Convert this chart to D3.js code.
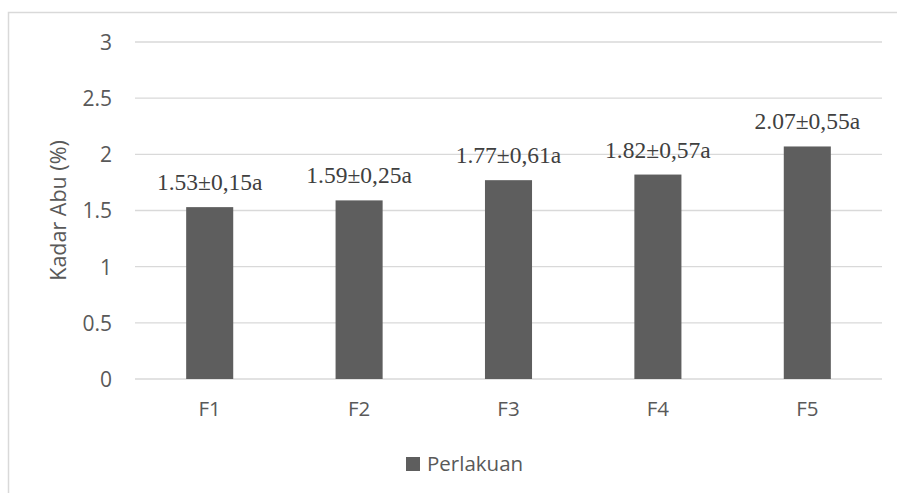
<!DOCTYPE html>
<html>
<head>
<meta charset="utf-8">
<script src="https://cdn.jsdelivr.net/npm/d3@7"></script>
<style>
  html, body { margin: 0; padding: 0; background: #fff; }
  svg { display: block; }
</style>
</head>
<body>
<svg id="chart" width="897" height="493"></svg>
<script>
// Ash content per treatment
const categories = ["F1", "F2", "F3", "F4", "F5"];
const values = [1.53, 1.59, 1.77, 1.82, 2.07];
const labels = ["1.53±0,15a", "1.59±0,25a", "1.77±0,61a", "1.82±0,57a", "2.07±0,55a"];
const yTicks = [0, 0.5, 1, 1.5, 2, 2.5, 3];
const seriesName = "Perlakuan";
const yTitle = "Kadar Abu (%)";

const svg = d3.select("#chart");
const W = 897, H = 493;
const plot = { left: 135, right: 882, top: 42, bottom: 379 };

const sansFont = "'Open Sans', 'Liberation Sans', sans-serif";
const serifFont = "'Liberation Serif', 'Times New Roman', serif";
const textColor = "#595959";
const gridColor = "#d9d9d9";
const barColor = "#5e5e5e";
const sansSize = 20.5;

// chart area border (top and left edges visible)
svg.append("rect")
  .attr("x", 8.5).attr("y", 12.5)
  .attr("width", W + 20).attr("height", H + 20)
  .attr("fill", "none").attr("stroke", gridColor).attr("stroke-width", 1.5);

const x = d3.scaleBand().domain(categories).range([plot.left, plot.right]).paddingInner(0.685).paddingOuter(0.3425);
const y = d3.scaleLinear().domain([0, 3]).range([plot.bottom, plot.top]);

// gridlines
svg.append("g")
  .selectAll("line")
  .data(yTicks)
  .join("line")
  .attr("x1", plot.left).attr("x2", plot.right)
  .attr("y1", d => y(d)).attr("y2", d => y(d))
  .attr("stroke", gridColor).attr("stroke-width", 1.3);

// y axis tick labels
const yAxis = d3.axisLeft(y).tickValues(yTicks).tickSize(0).tickPadding(0).tickFormat(d3.format("~g"));
svg.append("g")
  .attr("transform", `translate(${plot.left - 23},0)`)
  .call(yAxis)
  .call(g => g.select(".domain").remove())
  .call(g => g.selectAll("text")
    .attr("font-family", sansFont).attr("font-size", 21).attr("fill", textColor).attr("dy", "0.35em"));

// x axis tick labels
const xAxis = d3.axisBottom(x).tickSize(0).tickPadding(0);
svg.append("g")
  .attr("transform", `translate(0,${plot.bottom + 22})`)
  .call(xAxis)
  .call(g => g.select(".domain").remove())
  .call(g => g.selectAll("text")
    .attr("font-family", sansFont).attr("font-size", sansSize).attr("fill", textColor).attr("dy", "0.71em"));

// bars
svg.append("g")
  .selectAll("rect")
  .data(values)
  .join("rect")
  .attr("x", (d, i) => x(categories[i]))
  .attr("width", x.bandwidth())
  .attr("y", d => y(d))
  .attr("height", d => y(0) - y(d))
  .attr("fill", barColor);

// value labels
svg.append("g")
  .selectAll("text")
  .data(values)
  .join("text")
  .attr("x", (d, i) => x(categories[i]) + x.bandwidth() / 2)
  .attr("y", d => y(d) - 17)
  .attr("text-anchor", "middle")
  .attr("font-family", serifFont).attr("font-size", 23.5)
  .attr("fill", "#404040")
  .text((d, i) => labels[i]);

// y axis title
svg.append("text")
  .attr("transform", `translate(66,${(plot.top + plot.bottom) / 2}) rotate(-90)`)
  .attr("text-anchor", "middle")
  .attr("font-family", sansFont).attr("font-size", 21.5).attr("fill", textColor)
  .text(yTitle);

// legend
const legend = svg.append("g").attr("transform", "translate(406,457)");
legend.append("rect").attr("width", 14).attr("height", 14).attr("fill", barColor);
legend.append("text")
  .attr("x", 21).attr("y", 7).attr("dy", "0.35em")
  .attr("font-family", sansFont).attr("font-size", sansSize).attr("fill", textColor)
  .text(seriesName);
</script>
</body>
</html>
